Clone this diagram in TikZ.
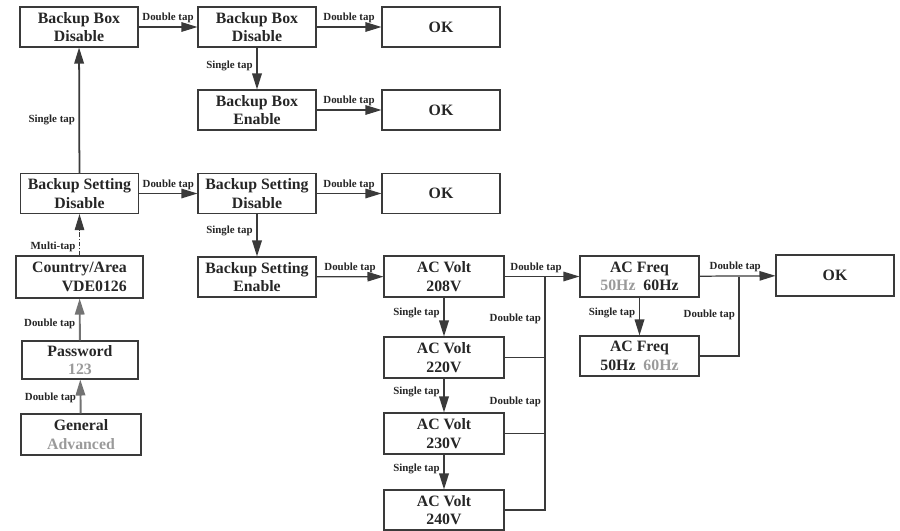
\documentclass[tikz,border=0pt]{standalone}
\usepackage{fontspec}
\setmainfont{Liberation Serif}
\usepackage{xcolor}
\usepackage{tikz}
\usetikzlibrary{
    arrows.meta
}

\definecolor{inkline}{HTML}{3A3A3A}
\definecolor{dimtext}{HTML}{9A9A9A}
\newcommand{\greyed}[1]{\textcolor{dimtext}{#1}}

\begin{document}
\begin{tikzpicture}[
    x=0.02cm, y=-0.02cm,
    screen/.style={
        rectangle,
        draw=inkline,
        line width=0.6pt,
        align=center,
        minimum width=2.36cm,
        minimum height=0.8cm,
        inner sep=1pt,
        text=black!85,
        font=\bfseries\fontsize{9}{10.5}\selectfont
    },
    tap/.style={
        font=\bfseries\fontsize{6.2}{7}\selectfont,
        text=black!85,
        inner sep=2pt
    },
    arrow/.style={-{Triangle[length=3.2mm, width=1.9mm]}, draw=inkline, line width=0.7pt},
    thickarrow/.style={arrow, line width=1pt},
    greyarrow/.style={arrow, draw=black!55, line width=1.1pt},
    bus/.style={draw=inkline, line width=0.7pt}
]
\useasboundingbox (0,0) rectangle (900,531);

% left column
\node[screen] (boxoffA) at (79,27) {Backup Box\\Disable};
\node[screen] (setoffA) at (79.5,193.5) {Backup Setting\\Disable};
\node[screen, minimum width=2.54cm, minimum height=0.84cm, align=right] (country) at (79.5,277)
    {Country/Area\\VDE0126};
\node[screen, minimum width=2.32cm, minimum height=0.76cm] (password) at (80,360)
    {Password\\\greyed{123}};
\node[screen, minimum width=2.4cm, minimum height=0.82cm] (general) at (81,434.5)
    {General\\\greyed{Advanced}};

% backup box
\node[screen] (boxoffB) at (257,27) {Backup Box\\Disable};
\node[screen] (boxonB) at (257,110) {Backup Box\\Enable};
\node[screen] (okA) at (441,27) {OK};
\node[screen] (okB) at (441,110) {OK};

% backup setting
\node[screen] (setoffB) at (257,193.5) {Backup Setting\\Disable};
\node[screen] (setonB) at (257,277) {Backup Setting\\Enable};
\node[screen] (okC) at (441,193.5) {OK};

% ac volt
\node[screen, minimum width=2.4cm, minimum height=0.82cm] (volt208) at (444,276.5) {AC Volt\\208V};
\node[screen, minimum width=2.4cm, minimum height=0.82cm] (volt220) at (444,357.5) {AC Volt\\220V};
\node[screen, minimum width=2.4cm, minimum height=0.82cm] (volt230) at (444,433.5) {AC Volt\\230V};
\node[screen, minimum width=2.4cm, minimum height=0.8cm] (volt240) at (444,510) {AC Volt\\240V};

% ac freq
\node[screen, minimum width=2.38cm, minimum height=0.82cm] (freq60) at (639.5,276.5)
    {AC Freq\\\greyed{50Hz}\enspace 60Hz};
\node[screen, minimum width=2.38cm, minimum height=0.8cm] (freq50) at (639.5,356)
    {AC Freq\\50Hz\enspace\greyed{60Hz}};
\node[screen, minimum height=0.82cm] (okD) at (835,275.5) {OK};

\coordinate (vbus208) at (545,276.5);
\coordinate (vbus220) at (545,357.5);
\coordinate (vbus230) at (545,433.5);
\coordinate (fbus) at (739,276.5);

% left column taps
\draw[greyarrow] (general) -- node[tap, left, pos=0.45] {Double tap} (password);
\draw[greyarrow] (password) -- node[tap, left, pos=0.4] {Double tap} (country);
\draw[arrow, line width=0.6pt, dash pattern=on 2.5pt off 1pt on 0.8pt off 1pt] (country)
    -- node[tap, left, pos=0.2] {Multi-tap} (setoffA);
\draw[thickarrow] (setoffA) -- node[tap, left, pos=0.42] {Single tap} (boxoffA);

\draw[arrow] (boxoffA) -- node[tap, above] {Double tap} (boxoffB);
\draw[arrow] (boxoffB) -- node[tap, above] {Double tap} (okA);
\draw[thickarrow] (boxoffB) -- node[tap, left, pos=0.45] {Single tap} (boxonB);
\draw[arrow] (boxonB) -- node[tap, above] {Double tap} (okB);

\draw[arrow] (setoffA) -- node[tap, above] {Double tap} (setoffB);
\draw[arrow] (setoffB) -- node[tap, above] {Double tap} (okC);
\draw[thickarrow] (setoffB) -- node[tap, left, pos=0.4] {Single tap} (setonB);
\draw[arrow] (setonB) -- node[tap, above] {Double tap} (volt208);

% volt chain
\draw[thickarrow] (volt208) -- node[tap, left, pos=0.4] {Single tap} (volt220);
\draw[thickarrow] (volt220) -- node[tap, left, pos=0.4] {Single tap} (volt230);
\draw[thickarrow] (volt230) -- node[tap, left, pos=0.4] {Single tap} (volt240);
\draw[arrow] (volt208) -- node[tap, above, pos=0.42] {Double tap} (freq60);
\draw[bus] (volt220.east) -| (vbus208) node[tap, left, pos=0.74] {Double tap};
\draw[bus] (volt230.east) -| (vbus220) node[tap, left, pos=0.71] {Double tap};
\draw[bus] (volt240.east) -| (vbus230);

% freq
\draw[thickarrow] (freq60) -- node[tap, left, pos=0.4] {Single tap} (freq50);
\draw[arrow] (freq60) -- node[tap, above, pos=0.47] {Double tap} (okD);
\draw[bus] (freq50.east) -| (fbus) node[tap, left, pos=0.76] {Double tap};

\end{tikzpicture}
\end{document}
